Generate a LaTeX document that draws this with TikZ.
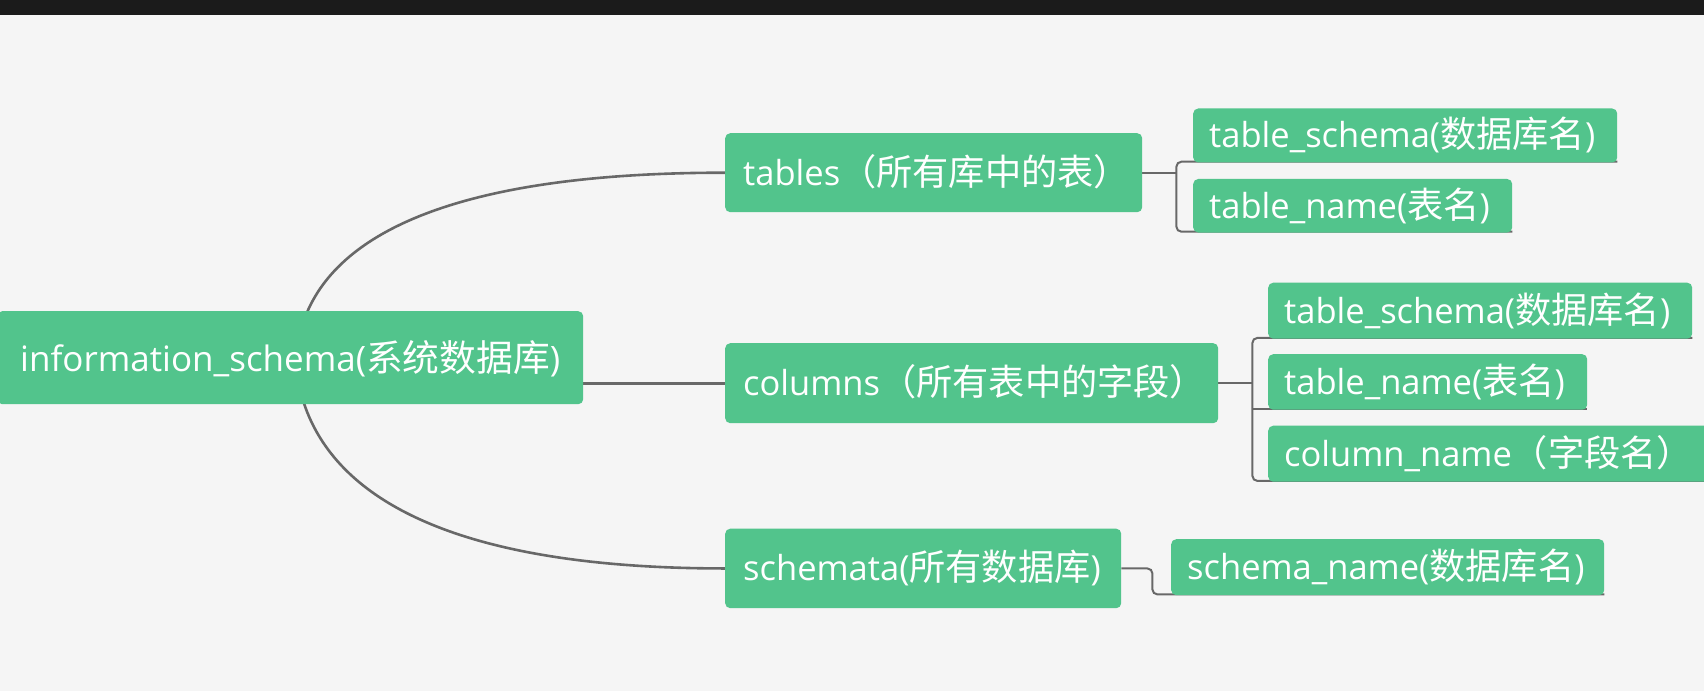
\documentclass[tikz,border=0pt]{standalone}
\usepackage{fontspec}
\setmainfont{Open Sans}
\newfontfamily\zhfont[Scale=1.05]{Noto Sans CJK SC}
\newcommand{\zh}[1]{{\zhfont #1}}
\usetikzlibrary{calc}
\definecolor{topicgreen}{RGB}{82,196,140}
\definecolor{paper}{RGB}{245,245,245}
\definecolor{topbar}{RGB}{27,27,27}
\definecolor{linegray}{RGB}{104,104,104}
\pgfdeclarelayer{bg}
\pgfdeclarelayer{lines}
\pgfsetlayers{bg,lines,main}
\begin{document}
\begin{tikzpicture}[x=1bp,y=-1bp,
  topic/.style={fill=topicgreen, rounded corners=5bp, text=white, anchor=north west,
    inner ysep=0pt, align=left, font=\fontsize{34.5bp}{40bp}\selectfont},
  rootbox/.style={topic, inner xsep=23bp, font=\fontsize{35bp}{40bp}\selectfont},
  lvlone/.style={topic, inner xsep=18bp},
  lvltwo/.style={topic, inner xsep=16bp},
  curve/.style={draw=linegray, line width=2.6bp},
  branch/.style={draw=linegray, line width=2bp}]
\newcommand{\sr}{\rule[-8bp]{0pt}{41bp}}
\newcommand{\srr}{\rule[-8bp]{0pt}{43bp}}
\begin{pgfonlayer}{bg}
\fill[paper] (0,0) rectangle (1704,691);
\fill[topbar] (0,0) rectangle (1704,15);
\end{pgfonlayer}
\useasboundingbox (0,0) rectangle (1704,691);

% root
\node[rootbox, text width=540bp, minimum height=93bp] (root) at (-3,311)
  {\srr information\_schema(\zh{系统数据库})};

% level one
\node[lvlone, text width=381bp, minimum height=79bp] (tables) at (725,133)
  {\sr tables\zh{（所有库中的表）}};
\node[lvlone, text width=457bp, minimum height=80bp] (columns) at (725,343)
  {\sr columns\zh{（所有表中的字段）}};
\node[lvlone, text width=360bp, minimum height=79.5bp] (schemata) at (725,528.5)
  {\sr schemata(\zh{所有数据库})};

% level two
\node[lvltwo, text width=392bp, minimum height=54bp] (t1) at (1193,108.3)
  {\sr table\_schema(\zh{数据库名})};
\node[lvltwo, text width=287bp, minimum height=53.5bp] (t2) at (1193,178.8)
  {\sr table\_name(\zh{表名})};
\node[lvltwo, text width=392bp, minimum height=56bp] (c1) at (1268,282.5)
  {\sr table\_schema(\zh{数据库名})};
\node[lvltwo, text width=287bp, minimum height=55.5bp] (c2) at (1268,354)
  {\sr table\_name(\zh{表名})};
\node[lvltwo, text width=418bp, minimum height=56bp] (c3) at (1268,425.5)
  {\sr column\_name\zh{（字段名）}};
\node[lvltwo, text width=401bp, minimum height=56bp] (s1) at (1171,539)
  {\sr schema\_name(\zh{数据库名})};

\begin{pgfonlayer}{lines}
% main curves
\draw[curve] ([xshift=6bp]root.center) .. controls +(8,-107) and +(-305,0) .. (tables.west);
\draw[curve] ([xshift=5bp]root.center) .. controls +(8,122) and +(-305,0) .. (schemata.west);
\draw[curve] (root.east |- columns.west) -- (columns.west);

% tables bracket
\coordinate (tj) at ($(tables.east)+(34,0)$);
\draw[branch] (tables.east) -- (tj);
\draw[branch, rounded corners=5bp] ([yshift=1bp]t1.south east) -- ([yshift=1bp]tj |- t1.south)
  -- ([yshift=1bp]tj |- t2.south) -- ([yshift=1bp]t2.south east);

% columns bracket
\coordinate (cj) at ($(columns.east)+(34,0)$);
\draw[branch] (columns.east) -- (cj);
\draw[branch, rounded corners=5bp] ([yshift=1bp]c1.south east) -- ([yshift=1bp]cj |- c1.south)
  -- ([yshift=1bp]cj |- c3.south) -- ([yshift=1bp]c3.south east);
\draw[branch] ([yshift=1bp]cj |- c2.south) -- ([yshift=1bp]c2.south east);

% schemata bracket
\coordinate (sj) at ($(schemata.east)+(31,0)$);
\draw[branch, rounded corners=5bp] (schemata.east) -- (sj)
  -- ([yshift=1bp]sj |- s1.south) -- ([yshift=1bp]s1.south east);
\end{pgfonlayer}
\end{tikzpicture}
\end{document}
